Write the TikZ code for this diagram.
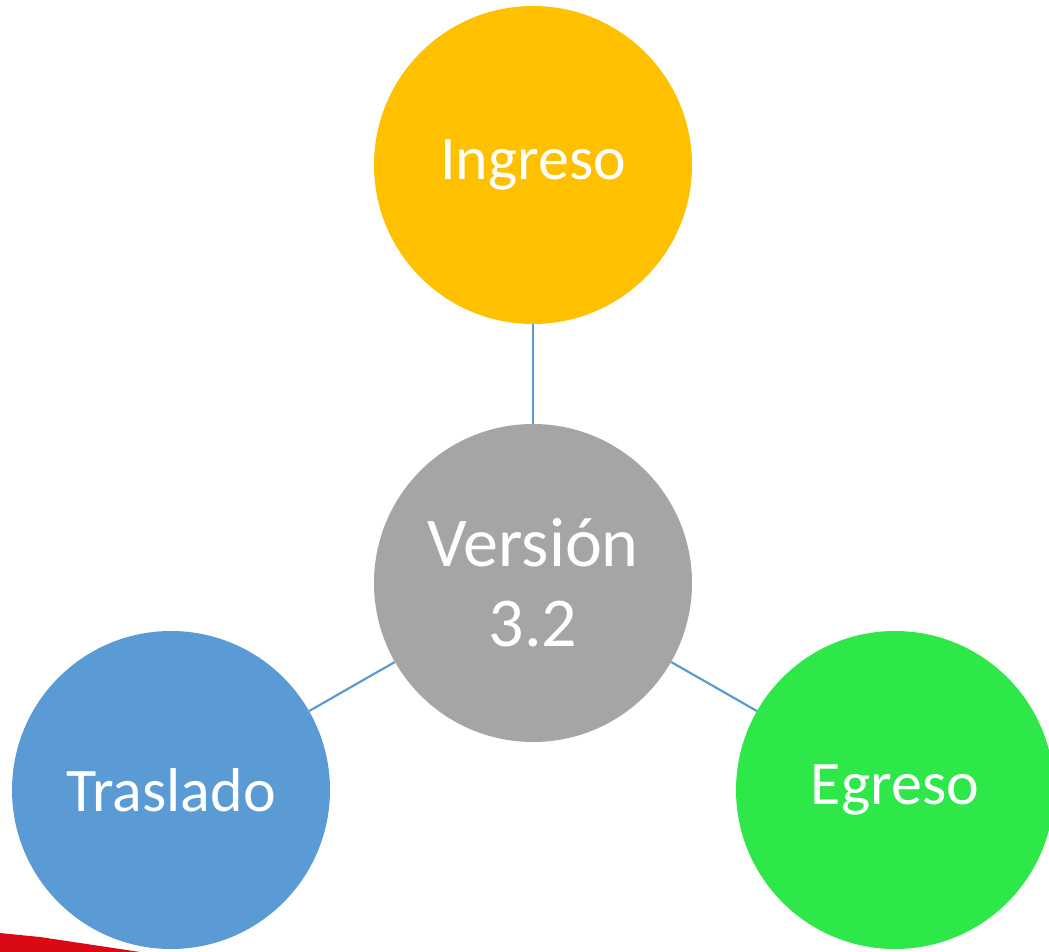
\documentclass[tikz,border=0pt]{standalone}
\usepackage{fontspec}
\setmainfont{Carlito}
\definecolor{ingresoc}{HTML}{FFC000}
\definecolor{versionc}{HTML}{A5A5A5}
\definecolor{trasladoc}{HTML}{5B9BD5}
\definecolor{egresoc}{HTML}{2EE84A}
\definecolor{linkc}{HTML}{5B9BD5}
\definecolor{bandc}{HTML}{D90A16}
\begin{document}
\begin{tikzpicture}[x=1pt,y=-1pt,
  bubble/.style={circle,minimum size=318pt,inner sep=0pt,text=white,
    align=center,font=\fontsize{62}{77}\selectfont},
  link/.style={draw=linkc,line width=2.2pt}]
\useasboundingbox (0,0) rectangle (1049,952);
\clip (0,0) rectangle (1049,952);
% red band in the lower left corner
\fill[bandc] (0,933) -- (40,937) -- (140,952) -- (0,952) -- cycle;
% bubbles
\node[bubble,fill=versionc,font=\fontsize{70}{80}\selectfont] (ver) at (533,583) {Versión\\3.2};
\node[bubble,fill=ingresoc] (ing) at (533,165) {Ingreso};
\node[bubble,fill=trasladoc] (tra) at (171,790) {Traslado};
\node[bubble,fill=egresoc] (egr) at (895,790) {Egreso};
% spokes
\draw[link] (ver) -- (ing);
\draw[link] (ver) -- (tra);
\draw[link] (ver) -- (egr);
\end{tikzpicture}
\end{document}
